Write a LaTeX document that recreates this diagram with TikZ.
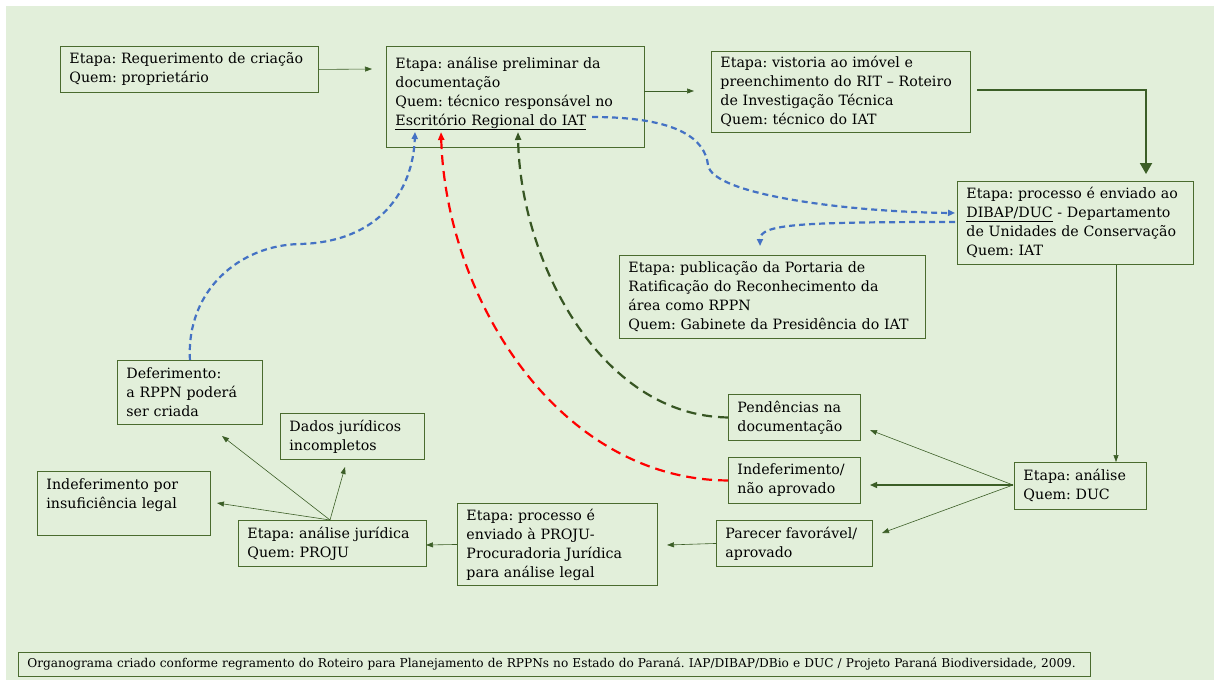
\documentclass[tikz,border=0pt]{standalone}
\usepackage{fontspec}
\setmainfont{DejaVu Serif}
\frenchspacing
\usetikzlibrary{arrows.meta,calc}
\definecolor{bgc}{HTML}{E2EFDA}
\definecolor{boxc}{HTML}{4A6B2E}
\definecolor{arrc}{HTML}{3B5E26}
\definecolor{bluec}{HTML}{4472C4}
\definecolor{redc}{HTML}{FF0000}
\definecolor{gdash}{HTML}{375623}
\tikzset{
  box/.style={draw=boxc, line width=0.9pt, fill=bgc, anchor=north west, align=left,
    inner xsep=9pt, inner ysep=4pt, font=\fontsize{14.2}{19}\selectfont},
  thinarr/.style={draw=arrc, line width=0.6pt, -{Triangle[width=5pt,length=7pt]}},
  bluedash/.style={draw=bluec, line width=2.2pt, dash pattern=on 6pt off 4pt, -{Triangle[width=6pt,length=7pt]}},
  reddash/.style={draw=redc, line width=2.2pt, dash pattern=on 10pt off 6pt, -{Triangle[width=6pt,length=8pt]}},
  greendash/.style={draw=gdash, line width=2.2pt, dash pattern=on 10pt off 6pt, -{Triangle[width=6pt,length=8pt]}},
}
\begin{document}
\begin{tikzpicture}[x=1pt,y=-1pt]
\useasboundingbox (0,0) rectangle (1214,680);
\fill[bgc] (6,6) rectangle (1214,680);

\node[box, text width=240pt, minimum height=46pt] (A) at (60,46)
  {Etapa: Requerimento de criação\\Quem: proprietário};
\node[box, text width=240pt, minimum height=101pt] (B) at (386,46)
  {Etapa: análise preliminar da\\documentação\\Quem: técnico responsável no\\\underline{Escritório Regional do IAT}\\[-7pt]\mbox{}};
\node[box, text width=241pt, minimum height=81pt] (C) at (711,51)
  {Etapa: vistoria ao imóvel e\\preenchimento do RIT – Roteiro\\de Investigação Técnica\\Quem: técnico do IAT};
\node[box, text width=218pt, minimum height=83pt] (D) at (957,181)
  {Etapa: processo é enviado ao\\\underline{DIBAP/DUC} - Departamento\\de Unidades de Conservação\\Quem: IAT};
\node[box, text width=288pt, minimum height=83pt] (E) at (619,255)
  {Etapa: publicação da Portaria de\\Ratificação do Reconhecimento da\\área como RPPN\\Quem: Gabinete da Presidência do IAT};
\node[box, text width=114pt, minimum height=47pt] (F) at (1014,462)
  {Etapa: análise\\Quem: DUC};
\node[box, text width=114pt, minimum height=46pt] (G) at (728,394)
  {Pendências na\\documentação};
\node[box, text width=114pt, minimum height=46pt] (H) at (728,457)
  {Indeferimento/\\não aprovado};
\node[box, text width=138pt, minimum height=46pt] (I) at (716,520)
  {Parecer favorável/\\aprovado};
\node[box, text width=182pt, minimum height=82pt] (J) at (457,503)
  {Etapa: processo é\\enviado à PROJU-\\Procuradoria Jurídica\\para análise legal};
\node[box, text width=170pt, minimum height=46pt] (K) at (238,520)
  {Etapa: análise jurídica\\Quem: PROJU};
\node[box, text width=155pt, minimum height=64pt] (L) at (37,471)
  {Indeferimento por\\insuficiência legal\\\mbox{}};
\node[box, text width=126pt, minimum height=46pt] (M) at (280,413)
  {Dados jurídicos\\incompletos};
\node[box, text width=127pt, minimum height=64pt] (N) at (117,360)
  {Deferimento:\\a RPPN poderá\\ser criada};
\node[box, text width=1054pt, minimum height=24pt, inner ysep=2pt, font=\fontsize{12.15}{14}\selectfont] (FT) at (18,652)
  {Organograma criado conforme regramento do Roteiro para Planejamento de RPPNs no Estado do Paraná. IAP/DIBAP/DBio e DUC / Projeto Paraná Biodiversidade, 2009.};

% named free ends
\coordinate (aEnd) at (372,69);
\coordinate (bcStart) at (644,91);
\coordinate (bcEnd) at (694,91);
\coordinate (cStart) at (977,90);
\coordinate (cEnd) at (1146,174);
\coordinate (bUnder) at (592,117);
\coordinate (dIn) at (955,213);
\coordinate (dOut) at (955,222);
\coordinate (eEnd) at (760,246);
\coordinate (bBlue) at (415,132);
\coordinate (bRed) at (441,132);
\coordinate (bGreen) at (518,132);
\coordinate (fL) at (1013,485);
\coordinate (gEnd) at (870,430);
\coordinate (hEnd) at (870,485);
\coordinate (iEnd) at (882,533);
\coordinate (kTop) at (330,520);
\coordinate (mEnd) at (345,467);
\coordinate (nEnd) at (222,436);
\coordinate (lEnd) at (217,503);
\coordinate (jEnd) at (667,545);
\coordinate (kEnd) at (426,545);

% solid arrows
\draw[thinarr] (A.east) -- (aEnd);
\draw[thinarr] (bcStart) -- (bcEnd);
\draw[draw=arrc, line width=2pt, -{Triangle[width=12pt,length=11pt]}] (cStart) -| (cEnd);
\draw[thinarr] (D.south -| 1116,0) -- (F.north -| 1116,0);
\draw[thinarr] (fL) -- (gEnd);
\draw[draw=arrc, line width=1.4pt, -{Triangle[width=6pt,length=7pt]}] (fL) -- (hEnd);
\draw[thinarr] (fL) -- (iEnd);
\draw[thinarr] (I.west) -- (jEnd);
\draw[thinarr] (J.west) -- (kEnd);
\draw[thinarr] (kTop) -- (mEnd);
\draw[thinarr] (kTop) -- (nEnd);
\draw[thinarr] (kTop) -- (lEnd);

% dashed curves
\draw[bluedash] (bUnder) .. controls (680,117) and (705,140) .. (708,165)
  .. controls (712,195) and (850,212) .. (dIn);
\draw[bluedash] (dOut) .. controls (800,222) and (760,224) .. (eEnd);
\draw[bluedash] (N.north) .. controls (186,290) and (240,245) .. (300,244)
  .. controls (380,242) and (413,190) .. (bBlue);
\draw[reddash] (H.west) .. controls (560,480) and (446,300) .. (bRed);
\draw[greendash] (G.west) .. controls (600,416) and (520,260) .. (bGreen);
\end{tikzpicture}
\end{document}
